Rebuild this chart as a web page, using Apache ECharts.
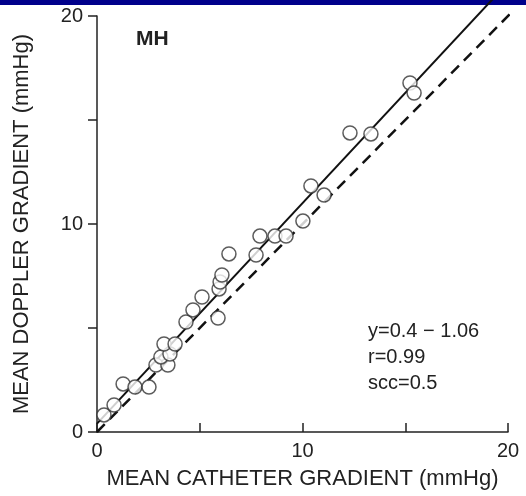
<!DOCTYPE html>
<html><head><meta charset="utf-8">
<script src="https://cdn.jsdelivr.net/npm/echarts@6/dist/echarts.min.js"></script>
<style>html,body{margin:0;padding:0;background:#fff}#c{width:526px;height:496px}</style>
</head><body><div id="c"></div>
<script>
// Mean catheter gradient (x) vs mean Doppler gradient (y), mmHg
const catheter = [0.34,0.83,1.27,1.85,2.53,2.87,3.45,3.11,3.55,3.26,3.80,4.33,4.67,5.11,5.89,5.94,5.99,6.08,6.42,7.74,7.93,8.66,9.20,10.02,10.41,11.05,12.31,13.33,15.23,15.43];
const doppler  = [0.82,1.30,2.31,2.16,2.16,3.22,3.22,3.61,3.75,4.23,4.23,5.29,5.87,6.49,5.48,6.88,7.21,7.55,8.56,8.51,9.42,9.42,9.42,10.14,11.83,11.39,14.38,14.33,16.78,16.30];
const regressionLine = [[0,0.4],[19.3,20.86]];
const identityLine = [[0,0],[20.2,20.2]];
const axisTicks = [0,10,20];
const annotation = ['y=0.4 \u2212 1.06','r=0.99','scc=0.5'];
const panelTitle = 'MH';
const xTitle = 'MEAN CATHETER GRADIENT (mmHg)';
const yTitle = 'MEAN DOPPLER GRADIENT (mmHg)';

const pts = catheter.map((x,i)=>[x,doppler[i]]);
const FONT = '"Liberation Sans", Arial, Helvetica, sans-serif';
const TXT = '#222';
const lbl = v => axisTicks.includes(v) ? String(v) : '';

const chart = echarts.init(document.getElementById('c'), null, {renderer:'canvas'});
chart.setOption({
  animation:false,
  backgroundColor:'#fff',
  grid:{left:97,right:18,top:16,bottom:64},
  xAxis:{type:'value',min:0,max:20,interval:5,
    name:xTitle,nameLocation:'middle',nameGap:36,
    nameTextStyle:{fontFamily:FONT,fontSize:22,color:TXT},
    axisLine:{lineStyle:{color:'#222',width:1.5}},
    axisTick:{inside:true,length:9,lineStyle:{color:'#222',width:1.5}},
    axisLabel:{formatter:lbl,fontFamily:FONT,fontSize:20,color:TXT,margin:9},
    splitLine:{show:false}},
  yAxis:{type:'value',min:0,max:20,interval:5,
    name:yTitle,nameLocation:'middle',nameGap:64,
    nameTextStyle:{fontFamily:FONT,fontSize:22,color:TXT},
    axisLine:{lineStyle:{color:'#222',width:1.5}},
    axisTick:{inside:false,length:9,lineStyle:{color:'#222',width:1.5}},
    axisLabel:{formatter:lbl,fontFamily:FONT,fontSize:20,color:TXT,margin:14},
    splitLine:{show:false}},
  graphic:[
    {type:'rect',left:0,top:0,shape:{width:526,height:5},style:{fill:'#00008b'}},
    {type:'text',left:136,top:29,style:{text:panelTitle,font:'bold 21px '+FONT,fill:TXT}},
    {type:'text',left:368,top:318,style:{text:annotation.join('\n'),font:'20px '+FONT,fill:TXT,lineHeight:26}}
  ],
  series:[
    {type:'line',data:regressionLine,symbol:'none',clip:false,z:2,
      lineStyle:{color:'#111',width:2}},
    {type:'line',data:identityLine,symbol:'none',clip:false,z:2,
      lineStyle:{color:'#111',width:2.5,type:[11,7]}},
    {type:'scatter',data:pts,symbol:'circle',symbolSize:14,z:3,
      itemStyle:{color:'#fff',borderColor:'#333',borderWidth:1.5}}
  ]
});
</script></body></html>
